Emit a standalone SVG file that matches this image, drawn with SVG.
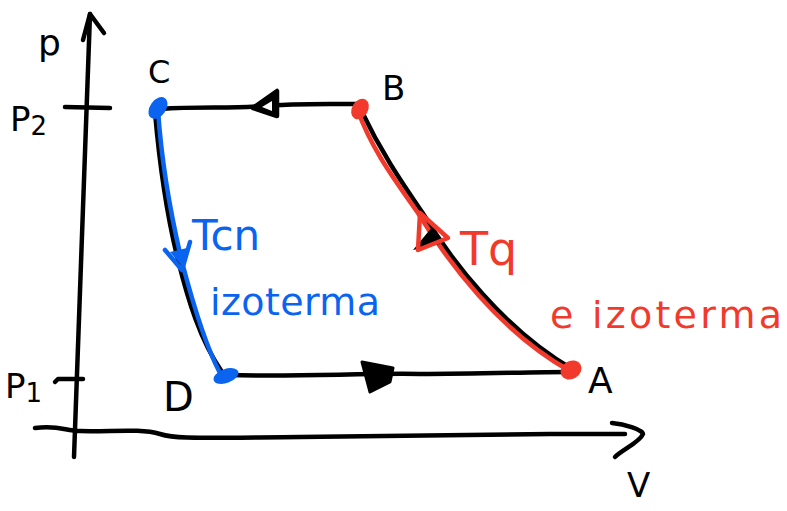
<svg xmlns="http://www.w3.org/2000/svg" width="787" height="511" viewBox="0 0 787 511">
<style>
.ink{fill:none;stroke:#000;stroke-width:4.5;stroke-linecap:round;stroke-linejoin:round}
.red{fill:none;stroke:#f23a2c;stroke-width:4.5;stroke-linecap:round;stroke-linejoin:round}
.blue{fill:none;stroke:#0a64f0;stroke-width:4.5;stroke-linecap:round;stroke-linejoin:round}
.lbl{font-family:"DejaVu Sans","Liberation Sans",sans-serif;fill:#000}
.rt{font-family:"DejaVu Sans","Liberation Sans",sans-serif;fill:#f23a2c}
.bt{font-family:"DejaVu Sans","Liberation Sans",sans-serif;fill:#0a64f0}
</style>
<rect width="787" height="511" fill="#fff"/>
<g id="axes">
<path class="ink" d="M74,457 C80,300 86,150 90,14"/>
<path class="ink" d="M83,40 L90,14 L104,33"/>
<path class="ink" d="M35,428 C60,425 65,431 80,431 C110,432 140,428 160,434 C175,439 190,438 300,437 L550,434 L625,434"/>
<path class="ink" d="M612,423 C625,424 643,430 643,434 C640,442 622,450 615,457"/>
<path class="ink" d="M65,107 L110,108"/>
<path class="ink" d="M55,382 L58,379 L83,379"/>
<text class="lbl" x="38" y="55" font-size="36">p</text>
<text class="lbl" x="10" y="131" font-size="34">P<tspan font-size="26" dy="4">2</tspan></text>
<text class="lbl" x="5" y="398" font-size="34">P<tspan font-size="26" dy="4">1</tspan></text>
<text class="lbl" x="627" y="497" font-size="34">V</text>
</g>
<g id="connectors">
<path id="C-B" class="ink" d="M160,109 C200,106 230,109 262,106 C300,103 330,104 357,104"/>
<path class="ink" d="M253,108 L277,91 L277,116 Z" style="fill:#000"/>
<path d="M262,107 L272,101 L272,111 Z" fill="#fff"/>
<path id="B-A" class="ink" d="M361,110 C380,150 400,180 422,212 C452,262 505,330 572,369"/>
<path class="red" d="M358,111 C372,150 395,180 418,213 C448,262 500,332 570,371"/>
<path d="M413,250 L433,226 L440,244 Z" fill="#000"/>
<path class="red" d="M420,213 L418,250 L448,238 Z"/>
<path id="D-A" class="ink" d="M228,375 C300,377 360,373 420,374 C480,374 530,372 570,372"/>
<path d="M362,362 L393,368 L390,382 L370,392 Z" fill="#000" stroke="#000" stroke-width="3" stroke-linejoin="round"/>
<path id="C-D" class="ink" d="M155,112 C160,170 168,220 178,260 C188,300 200,340 222,372"/>
<path class="blue" d="M158,110 C162,170 172,220 182,262 C192,300 205,345 220,373"/>
<path class="blue" d="M165,250 L182,270 L190,242" />
<path d="M170,252 L182,266 L187,248 Z" fill="#0a64f0"/>
</g>
<g id="node-C">
<ellipse cx="158" cy="108" rx="12" ry="8" transform="rotate(-55 158 108)" fill="#0a64f0"/>
<text class="lbl" x="148" y="83" font-size="32">C</text>
</g>
<g id="node-B">
<ellipse cx="360" cy="109" rx="11" ry="8" transform="rotate(-60 360 109)" fill="#f23a2c"/>
<text class="lbl" x="382" y="100" font-size="34">B</text>
</g>
<g id="node-A">
<ellipse cx="571" cy="370" rx="11" ry="9" transform="rotate(-30 571 370)" fill="#f23a2c"/>
<text class="lbl" x="588" y="393" font-size="36">A</text>
</g>
<g id="node-D">
<ellipse cx="226" cy="376" rx="13" ry="7" transform="rotate(-20 226 376)" fill="#0a64f0"/>
<text class="lbl" x="163" y="411" font-size="40">D</text>
</g>
<g id="labels">
<text class="bt" x="192" y="250" font-size="42">Tcn</text>
<text class="bt" x="210" y="315" font-size="38" textLength="170">izoterma</text>
<text class="rt" x="460" y="265" font-size="46">Tq</text>
<text class="rt" x="550" y="328" font-size="38" textLength="232">e izoterma</text>
</g>
</svg>
